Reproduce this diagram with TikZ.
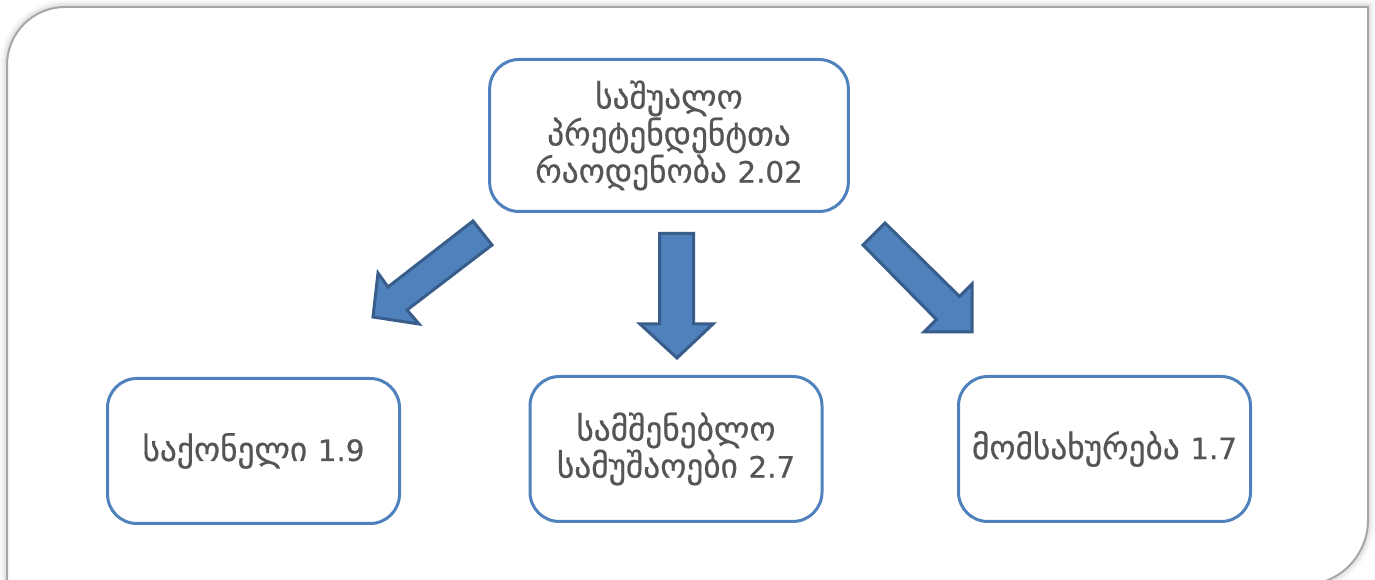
\documentclass[tikz,border=0pt]{standalone}
\usepackage{fontspec}
\setmainfont{DejaVu Sans}[FakeBold=0.6]
\definecolor{boxblue}{HTML}{4F81BD}
\definecolor{arrowedge}{HTML}{385D8A}
\definecolor{txtgray}{HTML}{555555}
\definecolor{framegray}{HTML}{A6A6A6}
\newcommand\numtxt[1]{{\fontsize{22}{26.25}\selectfont #1}}
\begin{document}
\begin{tikzpicture}[x=0.75pt,y=-0.75pt,
  framepath/.style={insert path={(7,640) -- (7,65) .. controls (7,33) and (33,7) .. (65,7) -- (1368,7) -- (1368,520) .. controls (1368,556) and (1339,585) .. (1303,585) -- (-20,585)}},
  box/.style={draw=boxblue, line width=2.25pt, rounded corners=22pt, fill=white,
    align=center, text=txtgray, font=\fontsize{25}{26.25}\selectfont,
    minimum width=219pt, minimum height=108.75pt, inner sep=0pt},
  blockarrow/.style={fill=boxblue, draw=arrowedge, line width=2.25pt, line join=miter}]
\useasboundingbox (0,0) rectangle (1375,580);
\clip (0,0) rectangle (1375,580);
% soft shadow of the frame
\draw[line width=10.5pt, black, opacity=0.025, framepath];
\draw[line width=7.5pt, black, opacity=0.03, framepath];
\draw[line width=4.5pt, black, opacity=0.05, framepath];
\draw[draw=framegray, fill=white, line width=1.5pt, framepath];
% boxes
\node[box, minimum width=269pt, minimum height=114pt] (top) at (669,135.5)
  {საშუალო\\პრეტენდენტთა\\რაოდენობა \numtxt{2.02}};
\node[box] (goods) at (253.5,451) {საქონელი \numtxt{1.9}};
\node[box] (works) at (676,449) {სამშენებლო\\სამუშაოები \numtxt{2.7}};
\node[box] (services) at (1104.5,449) {მომსახურება \numtxt{1.7}};
% block arrows
\draw[blockarrow] (473,221) -- (492,245) -- (407,310) -- (419,324) -- (373,317) -- (378,273) -- (388,287) -- cycle;
\draw[blockarrow] (659.5,233.5) -- (693.5,233.5) -- (693.5,324) -- (713,324) -- (677,358) -- (640,324) -- (659.5,324) -- cycle;
\draw[blockarrow] (885,223) -- (959.5,296.5) -- (972,284) -- (972,332) -- (924,332) -- (936.5,319.5) -- (863,245) -- cycle;
\end{tikzpicture}
\end{document}
